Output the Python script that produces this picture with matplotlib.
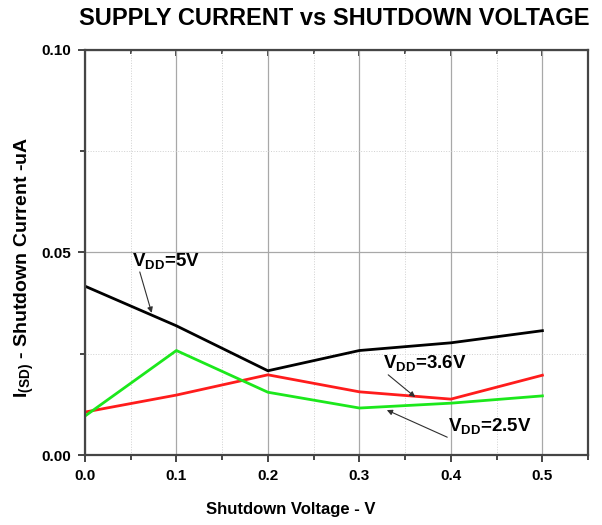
import numpy as np
import matplotlib
matplotlib.use('Agg')
import matplotlib.pyplot as plt
from matplotlib.ticker import MultipleLocator, FormatStrFormatter

plt.rcParams['font.family'] = ['Liberation Sans', 'DejaVu Sans']
plt.rcParams['mathtext.fontset'] = 'custom'
plt.rcParams['mathtext.rm'] = 'Liberation Sans:bold'
plt.rcParams['mathtext.bf'] = 'Liberation Sans:bold'

# data
voltage = [0.0, 0.1, 0.2, 0.3, 0.4, 0.5]
i_5v    = [0.0417, 0.0319, 0.0208, 0.0258, 0.0277, 0.0307]
i_36v   = [0.0106, 0.0148, 0.0198, 0.0156, 0.0138, 0.0197]
i_25v   = [0.0096, 0.0258, 0.0155, 0.0116, 0.0128, 0.0146]

fig = plt.figure(figsize=(6.02, 5.25), dpi=100)
ax = fig.add_axes([0.141, 0.1333, 0.836, 0.7715])

ax.plot(voltage, i_5v,  color='black',   lw=2.0)
ax.plot(voltage, i_36v, color='#ff1c1c', lw=2.0)
ax.plot(voltage, i_25v, color='#1ce81c', lw=2.0)

ax.set_xlim(0, 0.55)
ax.set_ylim(0, 0.10)
ax.xaxis.set_major_locator(MultipleLocator(0.1))
ax.xaxis.set_minor_locator(MultipleLocator(0.05))
ax.yaxis.set_major_locator(MultipleLocator(0.05))
ax.yaxis.set_minor_locator(MultipleLocator(0.025))
ax.xaxis.set_major_formatter(FormatStrFormatter('%.1f'))
ax.yaxis.set_major_formatter(FormatStrFormatter('%.2f'))

ax.grid(True, which='major', color='#a8a8a8', lw=0.9, ls='-')
ax.grid(True, which='minor', color='#d0d0d0', lw=0.7, ls=':')
ax.set_axisbelow(True)

for s in ax.spines.values():
    s.set_color('#454545')
    s.set_linewidth(1.6)

ax.tick_params(which='both', direction='out', color='#454545', width=1.4,
               labelsize=11, pad=5, top=False, right=False)
ax.tick_params(which='major', length=5)
ax.tick_params(which='minor', length=3.5)
for lbl in ax.get_xticklabels() + ax.get_yticklabels():
    lbl.set_fontweight('bold')

# inward ticks along the top edge
top = ax.secondary_xaxis('top')
top.xaxis.set_major_locator(MultipleLocator(0.1))
top.xaxis.set_minor_locator(MultipleLocator(0.05))
top.tick_params(which='both', direction='in', color='#454545', width=1.4,
                labeltop=False)
top.tick_params(which='major', length=4)
top.tick_params(which='minor', length=3)
top.spines['top'].set_visible(False)

ax.set_xlabel('Shutdown Voltage - V', fontsize=12, fontweight='bold')
ax.xaxis.set_label_coords(0.41, -0.115)
ax.set_ylabel(r'I$_{\mathbf{(SD)}}$ - Shutdown Current -uA', fontsize=14,
              fontweight='bold')
ax.yaxis.set_label_coords(-0.098, 0.463)

fig.text(0.555, 0.965, 'SUPPLY CURRENT vs SHUTDOWN VOLTAGE', ha='center',
         va='center', fontsize=17, fontweight='bold')

akw = dict(arrowstyle='-|>', color='#303030', lw=0.8, mutation_scale=8,
           shrinkA=0, shrinkB=0)
tkw = dict(fontsize=13.5, fontweight='bold', ha='left', va='baseline')

ax.text(0.052, 0.0464, r'V$_{\mathbf{DD}}$=5V', **tkw)
ax.annotate('', xy=(0.073, 0.0351), xytext=(0.060, 0.0452), arrowprops=akw)

ax.text(0.326, 0.0212, r'V$_{\mathbf{DD}}$=3.6V', **tkw)
ax.annotate('', xy=(0.361, 0.0143), xytext=(0.3315, 0.0198), arrowprops=akw)

ax.text(0.397, 0.0057, r'V$_{\mathbf{DD}}$=2.5V', **tkw)
ax.annotate('', xy=(0.330, 0.0111), xytext=(0.396, 0.0044), arrowprops=akw)

fig.savefig('out.png', dpi=100)
